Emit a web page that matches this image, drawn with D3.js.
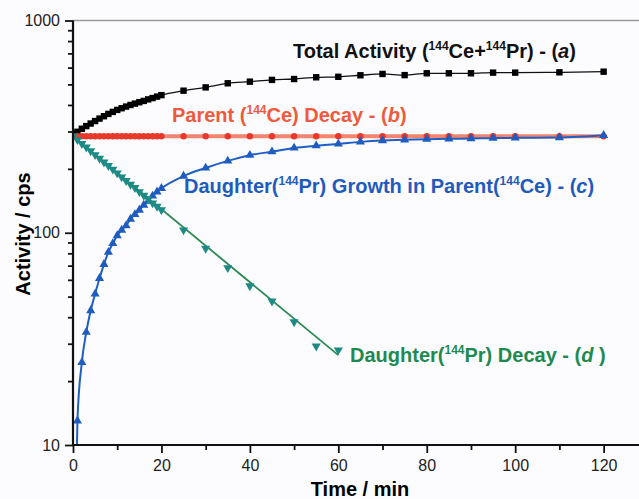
<!DOCTYPE html>
<html>
<head>
<meta charset="utf-8">
<script src="https://cdn.jsdelivr.net/npm/d3@7"></script>
<style>
  body { margin: 0; background: #fcfcfe; }
  text { font-family: "Liberation Sans", Arial, sans-serif; }
</style>
</head>
<body>
<div class="chart"></div>
<script>
// times (min) and activities (cps)
var totalT  = [0,1,2,3,4,5,6,7,8,9,10,11,12,13,14,15,16,17,18,19,20,25,30,35,40,45,50,55,60,65,70,75,80,85,90,95,100,110,120];
var totalV  = [292,299,309,318,327,336,345,354,363,371,379,386,393,400,406,412,418,425,431,438,445,467,484,506,515,525,530,540,543,552,560,553,564,564,564,568,568,570,574];

var parentT = [0,1,2,3,4,5,6,7,8,9,10,11,12,13,14,15,16,17,18,19,20,25,30,35,40,45,50,55,60,65,70,75,80,85,90,95,100,110,120];
var parentV = [285,285,285,285,285,285,285,285,285,285,285,285,285,285,285,285,285,285,285,285,285,285,285,285,285,285,285,285,285,285,285,285,285,285,285,285,285,285,285];

var growthT = [0,1,2,3,4,5,6,7,8,9,10,11,12,13,14,15,16,17,18,19,20,25,30,35,40,45,50,55,60,65,70,75,80,85,90,95,100,110,120];
var growthV = [1,13,24.5,34,43,51.5,61,71,81,89,97,103,108,116,122,128,135,141,149,156,162,185,202,218,232,241,251,257,262,268,272,274,276,277,278,279,280,281,288];

var decayT  = [0,1,2,3,4,5,6,7,8,9,10,11,12,13,14,15,16,17,18,19,20,25,30,35,40,45,50,55,60];
var decayV  = [285,274,263,253,243,233,224,215,207,199,191,183,176,169,163,156,150,144,138,133,128,103,84.4,68.4,56.2,47.6,38,29.2,28];
// fitted decay line end points
var decayFitT = [0, 60];
var decayFitV = [285, 26.5];

var xMajor = [0,20,40,60,80,100,120];
var xMinor = [10,30,50,70,90,110];
var yMajor = [10,100,1000];
var yMinor = [20,30,40,50,60,70,80,90,200,300,400,500,600,700,800,900];

var width = 639, height = 499;
var mLeft = 73, mRight = 639, mTop = 20.5, mBottom = 445;

var svg = d3.select(".chart").append("svg")
    .attr("width", width)
    .attr("height", height);

svg.append("rect").attr("width", width).attr("height", height).attr("fill", "#fcfcfe");

var x = d3.scaleLinear().domain([0, 128]).range([mLeft, mRight]);
var y = d3.scaleLog().domain([10, 1000]).range([mBottom, mTop]);

svg.append("clipPath").attr("id", "plot")
  .append("rect").attr("x", mLeft).attr("y", mTop).attr("width", mRight - mLeft).attr("height", mBottom - mTop);

// top frame line
svg.append("line")
    .attr("x1", mLeft).attr("x2", width).attr("y1", mTop).attr("y2", mTop)
    .attr("stroke", "#9a9a9a").attr("stroke-width", 1.5);

function pts(ts, vs) { return ts.map(function(t, i) { return [t, vs[i]]; }); }

var line = d3.line()
    .x(function(d) { return x(d[0]); })
    .y(function(d) { return y(d[1]); })
    .curve(d3.curveMonotoneX);

var g = svg.append("g").attr("clip-path", "url(#plot)");

g.append("path").attr("d", line(pts(totalT, totalV)))
    .attr("fill", "none").attr("stroke", "#111").attr("stroke-width", 1.3);
g.append("path").attr("d", line(pts(parentT, parentV)))
    .attr("fill", "none").attr("stroke", "#f4846e").attr("stroke-width", 4);
g.append("path").attr("d", line(pts(growthT, growthV)))
    .attr("fill", "none").attr("stroke", "#1f5fc4").attr("stroke-width", 2);
g.append("path").attr("d", d3.line().x(function(d) { return x(d[0]); }).y(function(d) { return y(d[1]); })(pts(decayFitT, decayFitV)))
    .attr("fill", "none").attr("stroke", "#2a8a52").attr("stroke-width", 1.8);

g.selectAll(".sq").data(pts(totalT, totalV)).enter().append("rect")
    .attr("x", function(d) { return x(d[0]) - 3.2; })
    .attr("y", function(d) { return y(d[1]) - 3.2; })
    .attr("width", 6.4).attr("height", 6.4).attr("fill", "#000");

g.selectAll(".ci").data(pts(parentT, parentV)).enter().append("circle")
    .attr("cx", function(d) { return x(d[0]); })
    .attr("cy", function(d) { return y(d[1]); })
    .attr("r", 3.2).attr("fill", "#e8382c");

var triUp = d3.symbol().type(d3.symbolTriangle).size(36);
g.selectAll(".tu").data(pts(growthT, growthV).slice(1)).enter().append("path")
    .attr("d", triUp)
    .attr("transform", function(d) { return "translate(" + x(d[0]) + "," + y(d[1]) + ")"; })
    .attr("fill", "#1f5cc0");

g.selectAll(".td").data(pts(decayT, decayV)).enter().append("path")
    .attr("d", triUp)
    .attr("transform", function(d) { return "translate(" + x(d[0]) + "," + y(d[1]) + ") rotate(180)"; })
    .attr("fill", "#1d8a86");

// axes
var xAxis = svg.append("g").attr("transform", "translate(0," + mBottom + ")");
xAxis.call(d3.axisBottom(x).tickValues(xMajor).tickSize(8).tickFormat(d3.format("d")));
xAxis.append("g").call(d3.axisBottom(x).tickValues(xMinor).tickSize(5).tickFormat(""));
xAxis.selectAll(".domain").remove();
xAxis.append("line").attr("x1", mLeft - 1).attr("x2", width).attr("stroke", "#111").attr("stroke-width", 2.2);
xAxis.selectAll(".tick line").attr("stroke", "#111").attr("stroke-width", 1.8);
xAxis.selectAll(".tick text").attr("font-size", 16).attr("fill", "#222").attr("y", 15);

var yAxis = svg.append("g").attr("transform", "translate(" + mLeft + ",0)");
yAxis.call(d3.axisLeft(y).tickValues(yMajor).tickSize(8).tickFormat(d3.format("d")));
yAxis.append("g").call(d3.axisLeft(y).tickValues(yMinor).tickSize(5).tickFormat(""));
yAxis.selectAll(".domain").remove();
yAxis.append("line").attr("y1", mTop).attr("y2", mBottom + 1).attr("stroke", "#111").attr("stroke-width", 2.2);
yAxis.selectAll(".tick line").attr("stroke", "#111").attr("stroke-width", 1.8);
yAxis.selectAll(".tick text").attr("font-size", 16).attr("fill", "#222").attr("x", -13);

svg.append("text").attr("x", 360).attr("y", 496)
    .attr("text-anchor", "middle").attr("font-size", 20).attr("font-weight", "bold")
    .text("Time / min");
svg.append("text").attr("transform", "translate(30,234) rotate(-90)")
    .attr("text-anchor", "middle").attr("font-size", 20).attr("font-weight", "bold")
    .text("Activity / cps");

// curve labels
function label(xp, yp, color, parts) {
  var t = svg.append("text").attr("x", xp).attr("y", yp)
      .attr("font-size", 20).attr("font-weight", "bold").attr("fill", color);
  parts.forEach(function(p) {
    var s = t.append("tspan").text(p.s);
    if (p.sup) s.attr("font-size", 12).attr("dy", -8);
    if (p.after) s.attr("dy", 8);
    if (p.it) s.attr("font-style", "italic");
  });
}

label(293, 58, "#111", [
  {s: "Total Activity ("}, {s: "144", sup: true}, {s: "Ce+", after: true},
  {s: "144", sup: true}, {s: "Pr) - (", after: true}, {s: "a", it: true}, {s: ")"}]);
label(172, 121.5, "#f05a3c", [
  {s: "Parent ("}, {s: "144", sup: true}, {s: "Ce) Decay - (", after: true}, {s: "b", it: true}, {s: ")"}]);
label(184, 193, "#1f5bbd", [
  {s: "Daughter("}, {s: "144", sup: true}, {s: "Pr) Growth in Parent(", after: true},
  {s: "144", sup: true}, {s: "Ce) - (", after: true}, {s: "c", it: true}, {s: ")"}]);
label(350, 362, "#1e8a50", [
  {s: "Daughter("}, {s: "144", sup: true}, {s: "Pr) Decay - (", after: true}, {s: "d", it: true}, {s: " )"}]);
</script>
</body>
</html>
